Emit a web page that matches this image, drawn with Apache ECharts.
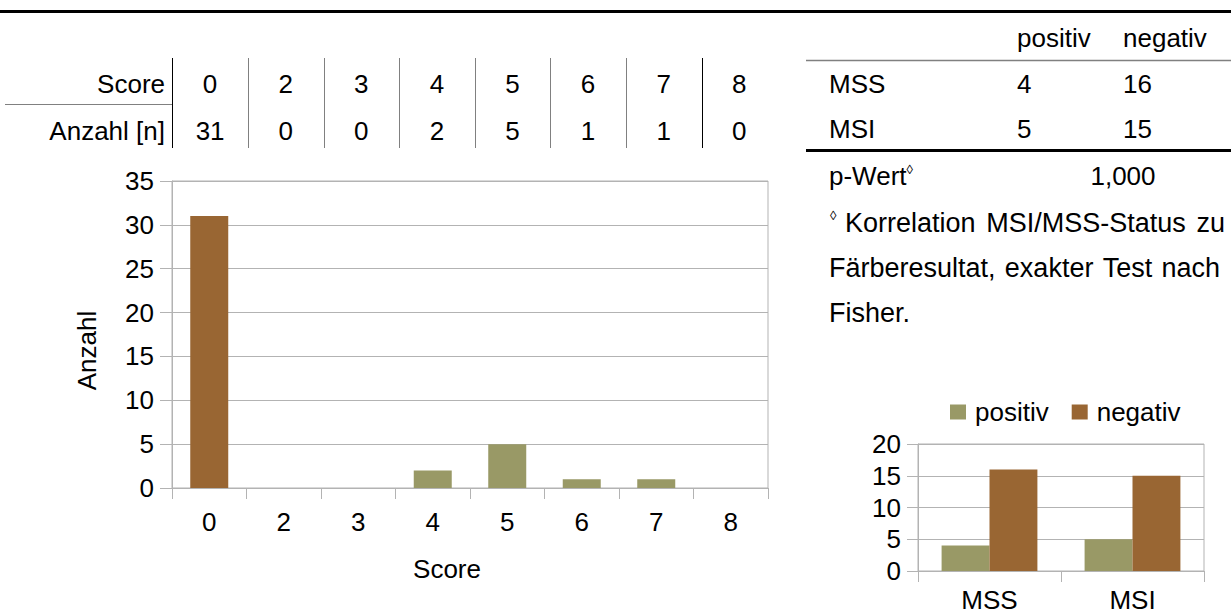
<!DOCTYPE html>
<html>
<head>
<meta charset="utf-8">
<script src="https://cdn.jsdelivr.net/npm/echarts@6/dist/echarts.min.js"></script>
<style>
  html, body { margin: 0; padding: 0; background: #fff; }
  #main { width: 1231px; height: 615px; }
</style>
</head>
<body>
<div id="main"></div>
<script>
// score distribution
const scores = ['0', '2', '3', '4', '5', '6', '7', '8'];
const counts = [31, 0, 0, 2, 5, 1, 1, 0];

// MSI / MSS vs staining result
const groups = ['MSS', 'MSI'];
const positiv = [4, 5];
const negativ = [16, 15];
const pValue = '1,000';
const footnote = ['Korrelation MSI/MSS-Status zu', 'Färberesultat, exakter Test nach', 'Fisher.'];

const BROWN = '#996633';
const OLIVE = '#999966';
const GRIDC = '#b3b3b3';
const FONT = '"Liberation Sans", Arial, sans-serif';
const FS = 26;
const NOTE_FS = 27;

function txt(x, y, s, align, size) {
    return {
        type: 'text',
        x: x, y: y,
        style: {
            text: s, fill: '#000', font: (size || FS) + 'px ' + FONT,
            textAlign: align || 'left', textVerticalAlign: 'middle'
        }
    };
}
function line(x1, y1, x2, y2, color, w) {
    return { type: 'line', shape: { x1: x1, y1: y1, x2: x2, y2: y2 }, style: { stroke: color, lineWidth: w } };
}

const graphics = [];
graphics.push(line(0, 11.5, 1231, 11.5, '#000', 3));

// table above the main chart
const colLeft = 172.3, colW = 75.6;
graphics.push(txt(165, 84, 'Score', 'right'));
graphics.push(txt(165, 131, 'Anzahl [n]', 'right'));
graphics.push(line(5, 104.5, colLeft, 104.5, '#808080', 1));
scores.forEach((s, i) => {
    const cx = colLeft + colW * (i + 0.5);
    graphics.push(txt(cx, 84, s, 'center'));
    graphics.push(txt(cx, 131, String(counts[i]), 'center'));
    const sx = Math.round(colLeft + colW * i) + 0.5;
    graphics.push(line(sx, 58, sx, 148, (i === 0 || i === scores.length - 1) ? '#000' : '#808080', 1));
});

// table on the right
const rLabel = 829, rPos = 1017, rNeg = 1123;
graphics.push(txt(rPos, 38, 'positiv'));
graphics.push(txt(rNeg, 38, 'negativ'));
graphics.push(line(806, 60.5, 1231, 60.5, '#808080', 1.5));
groups.forEach((g, j) => {
    const y = 84 + 45 * j;
    graphics.push(txt(rLabel, y, g));
    graphics.push(txt(rPos, y, String(positiv[j])));
    graphics.push(txt(rNeg, y, String(negativ[j])));
});
graphics.push(line(806, 150.5, 1231, 150.5, '#000', 3));
graphics.push({
    type: 'text', x: rLabel, y: 176,
    style: {
        text: 'p-Wert{sup|◊}', fill: '#000', fontSize: FS, fontFamily: FONT, verticalAlign: 'middle',
        rich: { sup: { fontSize: 13, verticalAlign: 'top', padding: [0, 0, 12, 0], fontFamily: FONT } }
    }
});
graphics.push(txt(rNeg, 176, pValue, 'center'));

// footnote, justified like the document text
const measure = document.createElement('canvas').getContext('2d');
measure.font = NOTE_FS + 'px ' + FONT;
function justify(words, x0, x1, y) {
    const widths = words.map(w => measure.measureText(w).width);
    const total = widths.reduce((a, b) => a + b, 0);
    const gap = Math.max((x1 - x0 - total) / (words.length - 1), 4);
    let x = x0;
    words.forEach((w, i) => { graphics.push(txt(x, y, w, 'left', NOTE_FS)); x += widths[i] + gap; });
}
graphics.push({ type: 'text', x: 830, y: 209, style: { text: '◊', fill: '#000', font: '13px ' + FONT, textVerticalAlign: 'top' } });
justify(footnote[0].split(' '), 845, 1225, 223);
justify(footnote[1].split(' '), 829, 1220, 268);
graphics.push(txt(829, 313, footnote[2], 'left', NOTE_FS));

const axisText = { color: '#000', fontSize: FS, fontFamily: FONT };

const chart = echarts.init(document.getElementById('main'), null, { renderer: 'svg' });
chart.setOption({
    animation: false,
    textStyle: { fontFamily: FONT },
    legend: {
        data: ['positiv', 'negativ'],
        left: 950, top: 399, padding: 0,
        icon: 'rect', itemWidth: 16, itemHeight: 15, itemGap: 23,
        textStyle: { color: '#000', fontSize: FS, fontFamily: FONT, padding: [0, 0, 0, 4] }
    },
    grid: [
        { left: 172, top: 181, width: 596, height: 307, show: true, borderColor: GRIDC, borderWidth: 1, containLabel: false },
        { left: 918, top: 444, width: 286, height: 127, show: true, borderColor: GRIDC, borderWidth: 1, containLabel: false }
    ],
    xAxis: [
        {
            gridIndex: 0, type: 'category', data: scores,
            name: 'Score', nameLocation: 'middle', nameGap: 68,
            nameTextStyle: Object.assign({ padding: [0, 46, 0, 0] }, axisText),
            axisLine: { lineStyle: { color: GRIDC } },
            axisTick: { show: true, length: 11, lineStyle: { color: GRIDC } },
            axisLabel: Object.assign({ margin: 21 }, axisText)
        },
        {
            gridIndex: 1, type: 'category', data: groups,
            axisLine: { lineStyle: { color: GRIDC } },
            axisTick: { show: true, length: 11, lineStyle: { color: GRIDC } },
            axisLabel: Object.assign({ margin: 16 }, axisText)
        }
    ],
    yAxis: [
        {
            gridIndex: 0, type: 'value', min: 0, max: 35, interval: 5,
            name: 'Anzahl', nameLocation: 'middle', nameGap: 72,
            nameTextStyle: Object.assign({ padding: [0, 32, 0, 0] }, axisText),
            axisLine: { show: true, lineStyle: { color: GRIDC } },
            axisTick: { show: true, length: 12, lineStyle: { color: GRIDC } },
            splitLine: { lineStyle: { color: GRIDC } },
            axisLabel: Object.assign({ margin: 18 }, axisText)
        },
        {
            gridIndex: 1, type: 'value', min: 0, max: 20, interval: 5,
            axisLine: { show: true, lineStyle: { color: GRIDC } },
            axisTick: { show: true, length: 11, lineStyle: { color: GRIDC } },
            splitLine: { lineStyle: { color: GRIDC } },
            axisLabel: Object.assign({ margin: 17 }, axisText)
        }
    ],
    series: [
        {
            name: 'Score', type: 'bar', xAxisIndex: 0, yAxisIndex: 0,
            data: counts, barWidth: '51%',
            itemStyle: { color: p => (scores[p.dataIndex] === '0' ? BROWN : OLIVE) }
        },
        {
            name: 'positiv', type: 'bar', xAxisIndex: 1, yAxisIndex: 1,
            data: positiv, barGap: 0, barCategoryGap: '33%', itemStyle: { color: OLIVE }
        },
        {
            name: 'negativ', type: 'bar', xAxisIndex: 1, yAxisIndex: 1,
            data: negativ, barGap: 0, barCategoryGap: '33%', itemStyle: { color: BROWN }
        }
    ],
    graphic: graphics
});
</script>
</body>
</html>
